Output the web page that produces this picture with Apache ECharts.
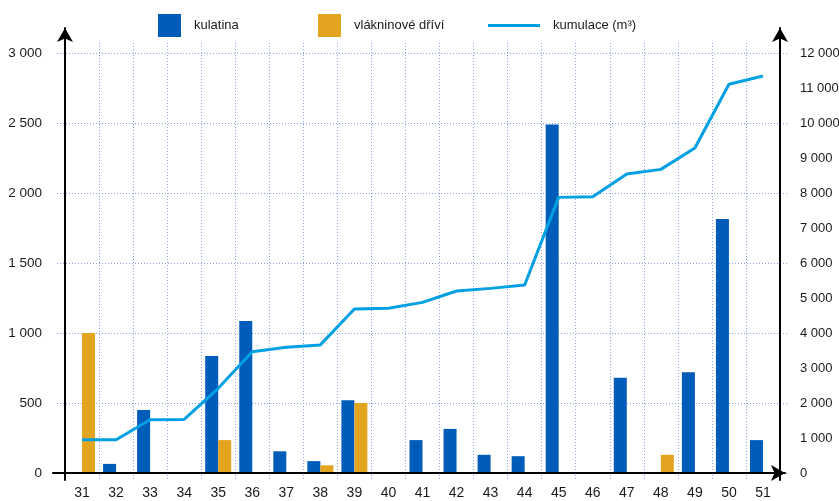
<!DOCTYPE html>
<html>
<head>
<meta charset="utf-8">
<title>kulatina / vlákninové dříví</title>
<script src="https://cdn.jsdelivr.net/npm/echarts@6/dist/echarts.min.js"></script>
<style>
  html, body { margin: 0; padding: 0; background: #fff; }
  #chart { width: 839px; height: 501px; }
</style>
</head>
<body>
<div id="chart"></div>
<script>
// data
var categories = ['31','32','33','34','35','36','37','38','39','40','41','42','43','44','45','46','47','48','49','50','51'];
var kulatina = [0, 65, 450, 0, 835, 1085, 155, 85, 520, 0, 235, 315, 130, 120, 2490, 0, 680, 0, 720, 1815, 235];
var vlaknina = [1000, 0, 0, 0, 235, 0, 0, 55, 500, 0, 0, 0, 0, 0, 0, 0, 0, 130, 0, 0, 0];
var kumulace = [950, 950, 1520, 1530, 2420, 3465, 3590, 3660, 4685, 4705, 4875, 5200, 5275, 5370, 7875, 7895, 8545, 8675, 9285, 11105, 11345];

// tick labels
var leftTicks = [0, 500, 1000, 1500, 2000, 2500, 3000];
var rightTicks = [0, 1000, 2000, 3000, 4000, 5000, 6000, 7000, 8000, 9000, 10000, 11000, 12000];

var font = "'Liberation Sans', Arial, sans-serif";
var gridColor = '#8ea4e6';

function fmt(v) {
  return String(v).replace(/\B(?=(\d{3})+(?!\d))/g, ' ');
}

var chart = echarts.init(document.getElementById('chart'));

var legendText = { fontFamily: font, fontSize: 13, color: '#1a1a1a', padding: [0, 0, 0, 8] };

var option = {
  animation: false,
  legend: [
    { data: ['kulatina'], left: 158, top: 14, padding: 0, itemWidth: 23, itemHeight: 23, icon: 'rect', textStyle: legendText },
    { data: ['vlákninové dříví'], left: 318, top: 14, padding: 0, itemWidth: 23, itemHeight: 23, icon: 'rect', textStyle: legendText },
    { data: ['kumulace (m³)'], left: 488, top: 19, padding: 0, itemWidth: 52, itemHeight: 3, icon: 'rect', textStyle: legendText }
  ],
  grid: [
    { left: 65, right: 59, top: 53, bottom: 28, outerBoundsMode: 'none' },   // data
    { left: 57, right: 52, top: 53, bottom: 28, outerBoundsMode: 'none' },   // horizontal dotted lines
    { left: 65, right: 59, top: 43, bottom: 20, outerBoundsMode: 'none' },   // vertical dotted lines
    { left: 65, right: 59, top: 28, bottom: 21, outerBoundsMode: 'none' },   // y axis lines with arrows
    { left: 53, right: 54, top: 28, bottom: 28, outerBoundsMode: 'none' }    // x axis line with arrow
  ],
  xAxis: [
    {
      gridIndex: 0, type: 'category', data: categories,
      axisLine: { show: false }, axisTick: { show: false }, splitLine: { show: false },
      axisLabel: { fontFamily: font, fontSize: 14, color: '#1a1a1a', margin: 13 }
    },
    { gridIndex: 1, type: 'value', min: 0, max: 1, show: false },
    {
      gridIndex: 2, type: 'category', data: categories, boundaryGap: true,
      axisLine: { show: false }, axisTick: { show: false }, axisLabel: { show: false },
      splitLine: { show: true, lineStyle: { color: gridColor, type: [1, 2], width: 1 } }
    },
    { gridIndex: 3, type: 'value', min: 0, max: 1, show: false },
    {
      gridIndex: 4, type: 'value', min: 0, max: 1, z: 5,
      axisLine: { show: true, symbol: ['none', 'arrow'], symbolSize: [12, 14], lineStyle: { color: '#000', width: 2 } },
      axisTick: { show: false }, axisLabel: { show: false }, splitLine: { show: false }
    }
  ],
  yAxis: [
    {
      gridIndex: 0, type: 'value', position: 'left',
      min: leftTicks[0], max: leftTicks[leftTicks.length - 1], interval: 500,
      axisLine: { show: false }, axisTick: { show: false }, splitLine: { show: false },
      axisLabel: { fontFamily: font, fontSize: 13.5, color: '#1a1a1a', margin: 23, formatter: fmt }
    },
    {
      gridIndex: 0, type: 'value', position: 'right',
      min: rightTicks[0], max: rightTicks[rightTicks.length - 1], interval: 1000,
      axisLine: { show: false }, axisTick: { show: false }, splitLine: { show: false },
      axisLabel: { fontFamily: font, fontSize: 13, color: '#1a1a1a', margin: 20, formatter: fmt }
    },
    {
      gridIndex: 1, type: 'value', min: 0, max: 3000, interval: 500,
      axisLine: { show: false }, axisTick: { show: false }, axisLabel: { show: false },
      splitLine: { show: true, lineStyle: { color: gridColor, type: [1, 2], width: 1 } }
    },
    { gridIndex: 2, type: 'value', min: 0, max: 1, show: false },
    {
      gridIndex: 3, type: 'value', position: 'left', min: 0, max: 1, z: 5,
      axisLine: { show: true, symbol: ['none', 'arrow'], symbolSize: [12, 14], lineStyle: { color: '#000', width: 2 } },
      axisTick: { show: false }, axisLabel: { show: false }, splitLine: { show: false }
    },
    {
      gridIndex: 3, type: 'value', position: 'right', min: 0, max: 1, z: 5,
      axisLine: { show: true, symbol: ['none', 'arrow'], symbolSize: [12, 14], lineStyle: { color: '#000', width: 2 } },
      axisTick: { show: false }, axisLabel: { show: false }, splitLine: { show: false }
    },
    { gridIndex: 4, type: 'value', min: 0, max: 1, show: false }
  ],
  series: [
    {
      name: 'kulatina', type: 'bar', xAxisIndex: 0, yAxisIndex: 0,
      barWidth: 13, barGap: '0%',
      itemStyle: { color: '#005cb9' },
      data: kulatina
    },
    {
      name: 'vlákninové dříví', type: 'bar', xAxisIndex: 0, yAxisIndex: 0,
      barWidth: 13, barGap: '0%',
      itemStyle: { color: '#e3a520' },
      data: vlaknina
    },
    {
      name: 'kumulace (m³)', type: 'line', xAxisIndex: 0, yAxisIndex: 1,
      symbol: 'none', z: 4,
      lineStyle: { color: '#00a0e3', width: 3 },
      itemStyle: { color: '#00a0e3' },
      data: kumulace
    }
  ]
};

chart.setOption(option);
</script>
</body>
</html>
